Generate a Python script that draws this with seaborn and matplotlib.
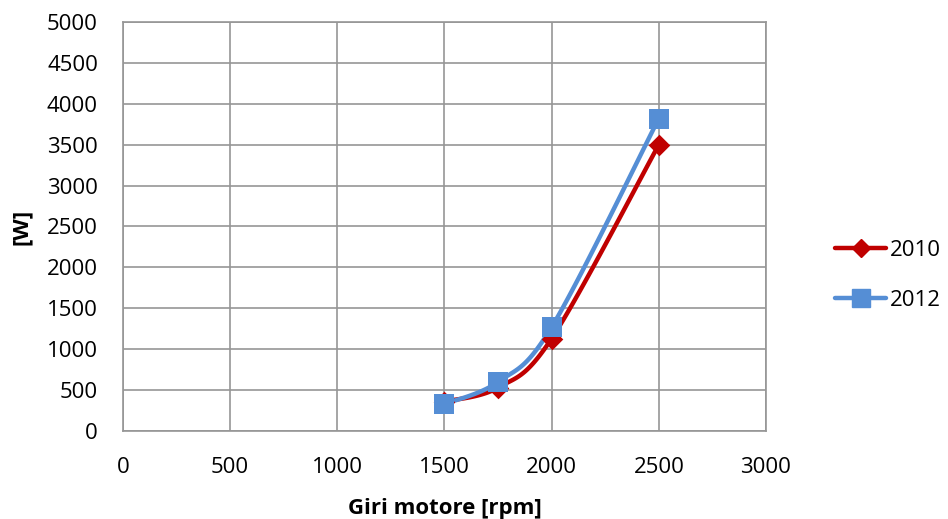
import numpy as np
import pandas as pd
import matplotlib
matplotlib.use("Agg")
import matplotlib.pyplot as plt
import seaborn as sns
from matplotlib.lines import Line2D

# Engine speed and power values
rpm = [1500, 1750, 2000, 2500]
power_2010 = [360, 530, 1130, 3500]
power_2012 = [330, 600, 1270, 3820]
series_names = ["2010", "2012"]
x_ticks = [0, 500, 1000, 1500, 2000, 2500, 3000]
y_ticks = [0, 500, 1000, 1500, 2000, 2500, 3000, 3500, 4000, 4500, 5000]

colors = {"2010": "#C00000", "2012": "#558ED5"}
markers = {"2010": "D", "2012": "s"}
msizes = {"2010": 11, "2012": 15}

df = pd.DataFrame({
    "rpm": rpm * 2,
    "power": power_2010 + power_2012,
    "serie": ["2010"] * len(rpm) + ["2012"] * len(rpm),
})

sns.set_theme(style="white")
plt.rcParams["font.family"] = ["Open Sans", "DejaVu Sans"]
plt.rcParams["text.color"] = "black"
plt.rcParams["axes.labelcolor"] = "black"
FS = 16

fig = plt.figure(figsize=(9.48, 5.19), dpi=100)
ax = fig.add_axes([0.1297, 0.1696, 0.808 - 0.1297, 0.9576 - 0.1696])


def smooth(xs, ys, n=40, tension=0.5):
    """Cardinal-spline curve through the points (smoothed line style)."""
    xs = np.asarray(xs, float)
    ys = np.asarray(ys, float)
    px = np.concatenate([[xs[0]], xs, [xs[-1]]])
    py = np.concatenate([[ys[0]], ys, [ys[-1]]])
    out_x, out_y = [], []
    t = np.linspace(0, 1, n)
    for i in range(1, len(px) - 2):
        p0x, p1x, p2x, p3x = px[i - 1], px[i], px[i + 1], px[i + 2]
        p0y, p1y, p2y, p3y = py[i - 1], py[i], py[i + 1], py[i + 2]
        m1x, m2x = tension * (p2x - p0x), tension * (p3x - p1x)
        m1y, m2y = tension * (p2y - p0y), tension * (p3y - p1y)
        h00 = 2 * t**3 - 3 * t**2 + 1
        h10 = t**3 - 2 * t**2 + t
        h01 = -2 * t**3 + 3 * t**2
        h11 = t**3 - t**2
        out_x.extend(h00 * p1x + h10 * m1x + h01 * p2x + h11 * m2x)
        out_y.extend(h00 * p1y + h10 * m1y + h01 * p2y + h11 * m2y)
    return np.array(out_x), np.array(out_y)


for name in series_names:
    sub = df[df["serie"] == name]
    sx, sy = smooth(sub["rpm"].values, sub["power"].values)
    ax.plot(sx, sy, color=colors[name], lw=3.2, solid_capstyle="round", zorder=3)
    sns.scatterplot(data=sub, x="rpm", y="power", ax=ax, color=colors[name],
                    marker=markers[name], s=msizes[name] ** 2, linewidth=0,
                    zorder=4, legend=False)

ax.set_xlim(0, 3000)
ax.set_ylim(0, 5000)
ax.set_xticks(x_ticks)
ax.set_yticks(y_ticks)
ax.grid(True, color="#969696", lw=1.2)
ax.set_axisbelow(True)
for side, sp in ax.spines.items():
    sp.set_color("#969696")
    sp.set_linewidth(1.2)
ax.tick_params(axis="both", which="both", direction="out", length=7, width=1.2,
               color="#969696", labelsize=FS, labelcolor="black")
ax.tick_params(axis="y", pad=11)
ax.tick_params(axis="x", pad=12)
ax.set_xlabel("Giri motore [rpm]", fontsize=FS, fontweight="bold", labelpad=14)
ax.set_ylabel("[W]", fontsize=FS, fontweight="bold", labelpad=11)

handles = [Line2D([0], [0], color=colors[n], lw=3.2, marker=markers[n],
                  markersize=msizes[n] * 0.85, solid_capstyle="round")
           for n in series_names]
fig.legend(handles, series_names, loc="center left", bbox_to_anchor=(0.86, 0.47),
           frameon=False, fontsize=FS, handlelength=2.3, handletextpad=0.15,
           labelspacing=1.3)

fig.savefig("out.png", dpi=100)
